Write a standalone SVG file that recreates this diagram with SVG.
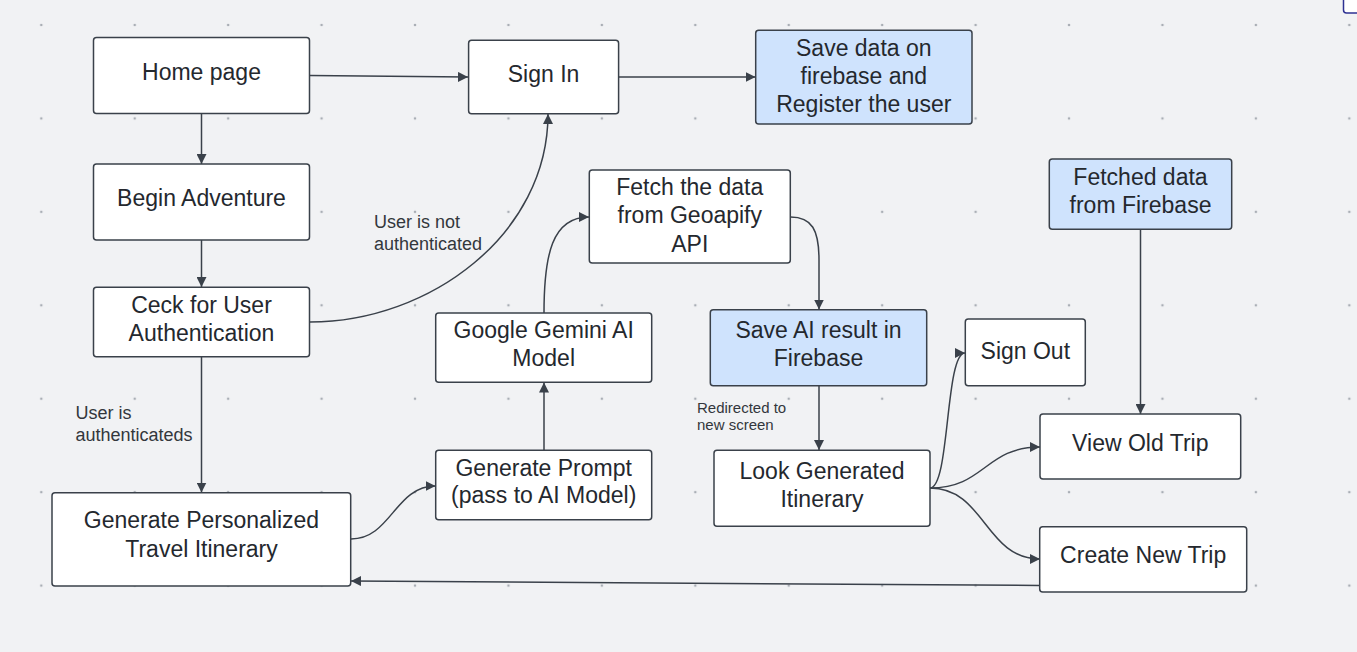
<svg xmlns="http://www.w3.org/2000/svg" width="1357" height="652" viewBox="0 0 1357 652">
  <defs>
    <pattern id="grid" patternUnits="userSpaceOnUse" x="-5.42" y="-21.72" width="93.43" height="93.43">
      <circle cx="46.72" cy="46.72" r="1.3" fill="#a9aeb5"/>
    </pattern>
    <marker id="arrow" viewBox="0 0 10 10" refX="10" refY="5" markerWidth="10" markerHeight="10" markerUnits="userSpaceOnUse" orient="auto">
      <path d="M0,0 L10,5 L0,10 z" fill="#3a414a"/>
    </marker>
    <style>
      .box { fill: #ffffff; stroke: #3a414a; stroke-width: 1.5; }
      .blue { fill: #cfe3fd; }
      .t { font-family: "Liberation Sans", Arial, sans-serif; font-size: 23px; fill: #24282e; text-anchor: middle; }
      .lbl { font-family: "Liberation Sans", Arial, sans-serif; font-size: 18px; fill: #33373c; }
      .lbl2 { font-family: "Liberation Sans", Arial, sans-serif; font-size: 15px; fill: #33373c; }
      .c { fill: none; stroke: #3a414a; stroke-width: 1.5; marker-end: url(#arrow); }
    </style>
  </defs>
  <rect x="0" y="0" width="1357" height="652" fill="#f1f2f4"/>
  <rect x="0" y="0" width="1357" height="652" fill="url(#grid)"/>

  <g id="connectors">
    <path class="c" d="M310,75.5 L468,77"/>
    <path class="c" d="M201.5,113.5 L201.5,164"/>
    <path class="c" d="M618.5,77 L755.5,77"/>
    <path class="c" d="M201.5,240 L201.5,287"/>
    <path class="c" d="M310,322 C430,322 548,234 548,114"/>
    <path class="c" d="M201.5,357 L201.5,492.5"/>
    <path class="c" d="M351,539 C391,539 395,486 435.5,486"/>
    <path class="c" d="M544,450 L544,382.5"/>
    <path class="c" d="M544,313 C544,255 552,217 589,217"/>
    <path class="c" d="M790.5,217 C812,217 819,230 819,260 L819,309.5"/>
    <path class="c" d="M819,386 L819,450"/>
    <path class="c" d="M930,488 C950,488 945,353 965,353"/>
    <path class="c" d="M930,488 C985,488 985,447 1040,447"/>
    <path class="c" d="M930,488 C985,488 985,559 1040,559"/>
    <path class="c" d="M1140.5,229.5 L1140.5,414"/>
    <path class="c" d="M1040,585.5 L351,581"/>
  </g>

  <g id="labels">
    <text class="lbl" x="374" y="228">User is not</text>
    <text class="lbl" x="374" y="250">authenticated</text>
    <text class="lbl" x="75.5" y="419">User is</text>
    <text class="lbl" x="75.5" y="440.5">authenticateds</text>
    <text class="lbl2" x="697" y="412.5">Redirected to</text>
    <text class="lbl2" x="697" y="430">new screen</text>
  </g>

  <g id="home">
    <rect class="box" x="93.5" y="37.5" width="216" height="76" rx="3"/>
    <text class="t" x="201.5" y="80">Home page</text>
  </g>
  <g id="begin">
    <rect class="box" x="93.5" y="164" width="216" height="76" rx="3"/>
    <text class="t" x="201.5" y="205.7">Begin Adventure</text>
  </g>
  <g id="check">
    <rect class="box" x="93.5" y="287.3" width="216" height="69.5" rx="3"/>
    <text class="t" x="201.5" y="313">Ceck for User</text>
    <text class="t" x="201.5" y="341">Authentication</text>
  </g>
  <g id="genPersonalized">
    <rect class="box" x="52" y="492.7" width="298.7" height="93.3" rx="3"/>
    <text class="t" x="201.5" y="528.3">Generate Personalized</text>
    <text class="t" x="201.5" y="556.7">Travel Itinerary</text>
  </g>
  <g id="signIn">
    <rect class="box" x="468.6" y="40.3" width="150" height="73.4" rx="3"/>
    <text class="t" x="543.6" y="81.7">Sign In</text>
  </g>
  <g id="saveData">
    <rect class="box blue" x="755.7" y="30.3" width="216.3" height="93.7" rx="3"/>
    <text class="t" x="863.8" y="56">Save data on</text>
    <text class="t" x="863.8" y="84">firebase and</text>
    <text class="t" x="863.8" y="111.7">Register the user</text>
  </g>
  <g id="fetchGeo">
    <rect class="box" x="589.3" y="170" width="201" height="93" rx="3"/>
    <text class="t" x="689.8" y="195">Fetch the data</text>
    <text class="t" x="689.8" y="223.3">from Geoapify</text>
    <text class="t" x="689.8" y="251.7">API</text>
  </g>
  <g id="gemini">
    <rect class="box" x="435.7" y="313" width="216" height="69.3" rx="3"/>
    <text class="t" x="543.7" y="338.3">Google Gemini AI</text>
    <text class="t" x="543.7" y="365.7">Model</text>
  </g>
  <g id="prompt">
    <rect class="box" x="435.7" y="450.3" width="216" height="69.4" rx="3"/>
    <text class="t" x="543.7" y="476">Generate Prompt</text>
    <text class="t" x="543.7" y="503.3">(pass to AI Model)</text>
  </g>
  <g id="saveAI">
    <rect class="box blue" x="710.3" y="309.7" width="216.4" height="76" rx="3"/>
    <text class="t" x="818.5" y="338.3">Save AI result in</text>
    <text class="t" x="818.5" y="365.7">Firebase</text>
  </g>
  <g id="lookItinerary">
    <rect class="box" x="714" y="450.3" width="216" height="76" rx="3"/>
    <text class="t" x="822" y="479">Look Generated</text>
    <text class="t" x="822" y="506.7">Itinerary</text>
  </g>
  <g id="signOut">
    <rect class="box" x="965.3" y="319" width="120" height="66.7" rx="3"/>
    <text class="t" x="1025.3" y="359">Sign Out</text>
  </g>
  <g id="fetchedFirebase">
    <rect class="box blue" x="1049.3" y="159" width="182.4" height="70.3" rx="3"/>
    <text class="t" x="1140.5" y="185">Fetched data</text>
    <text class="t" x="1140.5" y="213.3">from Firebase</text>
  </g>
  <g id="viewOldTrip">
    <rect class="box" x="1040" y="414" width="200.7" height="65" rx="3"/>
    <text class="t" x="1140.3" y="450.7">View Old Trip</text>
  </g>
  <g id="createNewTrip">
    <rect class="box" x="1039.7" y="526.7" width="207" height="65.3" rx="3"/>
    <text class="t" x="1143.2" y="563.3">Create New Trip</text>
  </g>
  <g id="cornerShape">
    <rect x="1343.5" y="-20" width="40" height="33" rx="3" fill="#ffffff" stroke="#2e3192" stroke-width="1.5"/>
  </g>
</svg>
